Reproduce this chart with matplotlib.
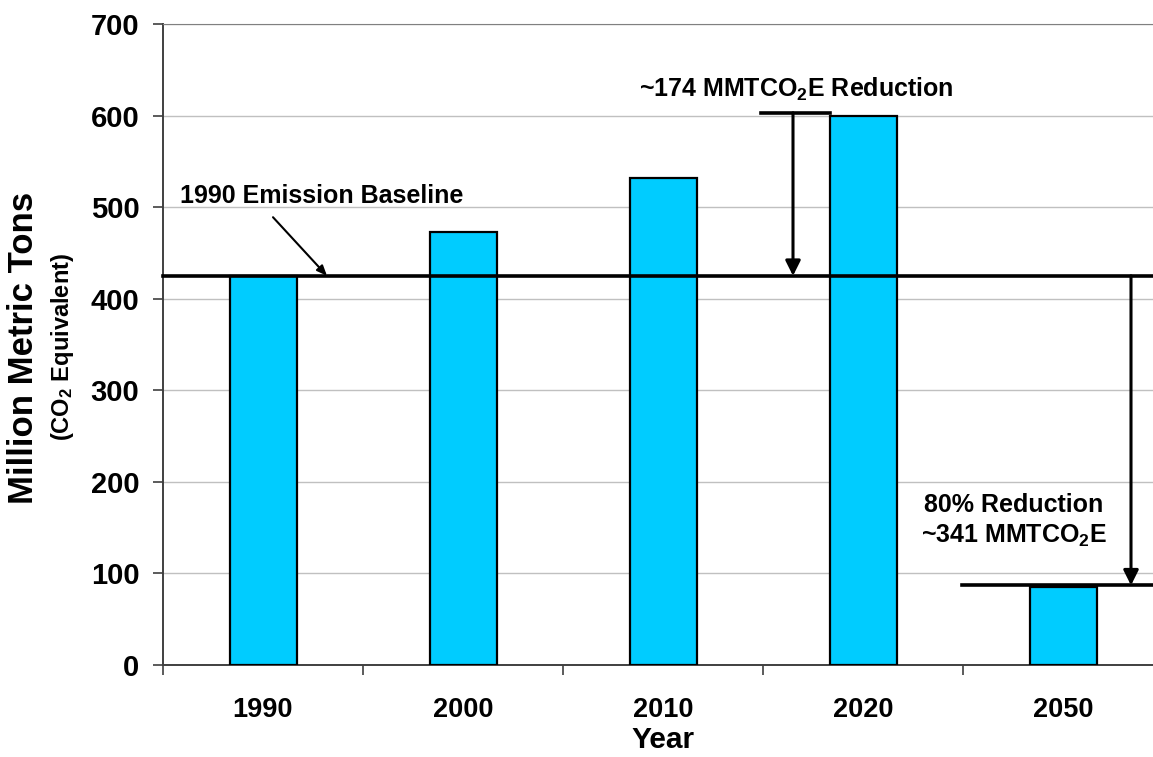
import matplotlib.pyplot as plt

plt.rcParams['font.family'] = ['Liberation Sans', 'DejaVu Sans']
plt.rcParams['font.weight'] = 'bold'
plt.rcParams['mathtext.default'] = 'regular'

# data
years = ['1990', '2000', '2010', '2020', '2050']
emissions = [425, 473, 532, 600, 85]
baseline = 425
target_2050 = 87
cap_2020 = 603
y_ticks = [0, 100, 200, 300, 400, 500, 600, 700]

fig = plt.figure(figsize=(11.53, 7.57), dpi=100)
ax = fig.add_axes([163 / 1153, 1 - 665 / 757, 1000 / 1153, 641 / 757])

x = list(range(len(years)))
ax.bar(x, emissions, width=0.335, color='#00CCFF', edgecolor='black', linewidth=1.6, zorder=3)

ax.set_xlim(-0.5, 4.5)
ax.set_ylim(0, 700)
ax.set_yticks(y_ticks)
ax.set_yticklabels([str(v) for v in y_ticks], fontsize=21, fontweight='bold')
ax.set_xticks(x)
ax.set_xticklabels(years, fontsize=19.5, fontweight='bold')
ax.set_xticks([i + 0.5 for i in range(-1, len(years))], minor=True)
ax.tick_params(axis='x', which='major', length=0, pad=23)
ax.tick_params(axis='x', which='minor', length=7, width=1.2, color='#404040', direction='out')
ax.tick_params(axis='y', length=7, width=1.2, color='#404040', pad=10)
ax.grid(axis='y', color='#C0C0C0', linewidth=1, zorder=0)
ax.set_axisbelow(True)

ax.spines['right'].set_visible(False)
ax.spines['top'].set_color('#808080')
ax.spines['left'].set_color('#404040')
ax.spines['bottom'].set_color('#404040')
ax.spines['left'].set_linewidth(1.4)
ax.spines['bottom'].set_linewidth(1.4)

# baseline and 2050 target lines
ax.plot([-0.5, 4.5], [baseline, baseline], color='black', linewidth=2.6, zorder=4, clip_on=False)
ax.plot([3.495, 4.5], [target_2050, target_2050], color='black', linewidth=2.6, zorder=4, clip_on=False)
ax.plot([2.49, 2.835], [cap_2020, cap_2020], color='black', linewidth=2.6, zorder=4)

arrow_big = dict(arrowstyle='-|>,head_length=0.9,head_width=0.45', color='black', lw=2.2, shrinkA=0, shrinkB=0)
ax.annotate('', xy=(2.65, baseline), xytext=(2.65, cap_2020), arrowprops=arrow_big, zorder=5)
ax.annotate('', xy=(4.34, target_2050), xytext=(4.34, baseline), arrowprops=arrow_big, zorder=5)

ax.annotate('', xy=(0.32, baseline), xytext=(0.05, 489),
            arrowprops=dict(arrowstyle='-|>,head_length=0.6,head_width=0.25', color='black', lw=1.5,
                            shrinkA=0, shrinkB=0), zorder=5)

ax.text(-0.415, 504, '1990 Emission Baseline', fontsize=18, fontweight='bold', ha='left', va='baseline')
ax.text(2.665, 620, '~174 MMTCO$_2$E Reduction', fontsize=18, fontweight='bold', ha='center', va='baseline')
ax.text(3.755, 167, '80% Reduction', fontsize=18, fontweight='bold', ha='center', va='baseline')
ax.text(3.755, 133, '~341 MMTCO$_2$E', fontsize=18, fontweight='bold', ha='center', va='baseline')

fig.text(663 / 1153, 1 - 748 / 757, 'Year', fontsize=21.5, fontweight='bold', ha='center', va='baseline')
fig.text(24 / 1153, 1 - 348 / 757, 'Million Metric Tons', fontsize=25, fontweight='bold',
         rotation=90, ha='center', va='center')
fig.text(62 / 1153, 1 - 347 / 757, '(CO$_2$ Equivalent)', fontsize=17, fontweight='bold',
         rotation=90, ha='center', va='center')

plt.savefig('out.png', dpi=100)
